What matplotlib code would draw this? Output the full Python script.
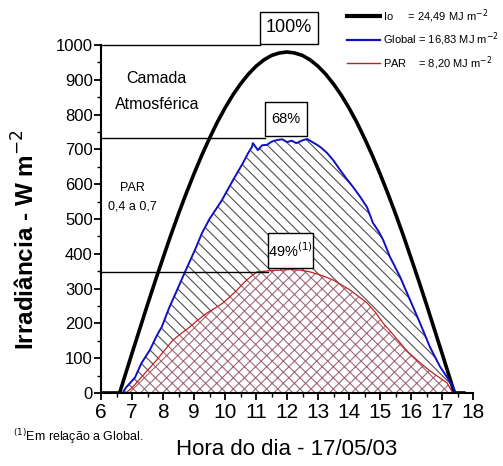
import numpy as np
import matplotlib
matplotlib.use("Agg")
import matplotlib.pyplot as plt
from matplotlib.patches import Rectangle
from matplotlib.lines import Line2D
from matplotlib.ticker import MultipleLocator

plt.rcParams['font.family'] = ['Liberation Sans', 'DejaVu Sans']
plt.rcParams['hatch.linewidth'] = 0.8

# Io (top of atmosphere), hours and W m-2
io_hour = [6.0, 6.6, 6.75, 7.0, 7.25, 7.5, 7.75, 8.0, 8.25, 8.5, 8.75, 9.0, 9.25, 9.5, 9.75,
           10.0, 10.25, 10.5, 10.75, 11.0, 11.25, 11.5, 11.75, 12.0, 12.25, 12.5, 12.75,
           13.0, 13.25, 13.5, 13.75, 14.0, 14.25, 14.5, 14.75, 15.0, 15.25, 15.5, 15.75,
           16.0, 16.25, 16.5, 16.75, 17.0, 17.25, 17.4, 17.7]
io_val = [0, 0, 43, 114, 184, 254, 322, 388, 453, 515, 574, 630, 683, 732, 778,
          819, 856, 888, 916, 939, 957, 970, 977, 980, 977, 970, 957,
          939, 916, 888, 856, 819, 778, 732, 683, 630, 574, 515, 453,
          388, 322, 254, 184, 114, 43, 0, 0]

# Global
glob_hour = [6.7, 6.8, 6.94, 7.1, 7.3, 7.58, 7.8, 7.96, 8.2, 8.4, 8.71, 9.03, 9.26, 9.5,
             9.9, 10.26, 10.58, 10.75, 10.87, 10.9, 11.06, 11.2, 11.35, 11.5, 11.68, 11.85,
             12.0, 12.15, 12.3, 12.5, 12.65, 12.8, 12.97, 13.1, 13.29, 13.5, 13.71, 13.9,
             14.13, 14.35, 14.58, 14.77, 14.95, 15.1, 15.32, 15.42, 15.65, 15.97, 16.29,
             16.61, 16.94, 17.26, 17.45]
glob_val = [0, 15, 29, 45, 85, 124, 165, 190, 245, 285, 348, 411, 460, 500,
            554, 612, 661, 690, 707, 718, 698, 712, 713, 722, 727, 729,
            721, 725, 718, 726, 730, 722, 713, 705, 690, 668, 641, 618,
            592, 565, 534, 489, 465, 440, 391, 374, 333, 267, 201,
            132, 75, 32, 0]

# PAR
par_hour = [6.8, 7.0, 7.4, 7.8, 8.1, 8.32, 8.6, 8.87, 9.1, 9.42, 9.7, 9.94, 10.2, 10.39,
            10.6, 10.81, 11.03, 11.3, 11.5, 11.77, 12.1, 12.42, 12.7, 12.97, 13.2, 13.48,
            13.75, 14.03, 14.3, 14.58, 14.85, 15.1, 15.4, 15.65, 15.9, 16.19, 16.45,
            16.71, 16.95, 17.16, 17.35]
par_val = [0, 15, 55, 95, 128, 152, 172, 190, 208, 230, 245, 259, 280, 296,
           316, 333, 348, 350, 352, 353, 355, 353, 349, 342, 335, 325,
           311, 296, 278, 259, 232, 201, 170, 144, 118, 95, 75,
           57, 42, 29, 0]

legend_labels = ["Io     = 24,49 MJ m$^{-2}$", "Global = 16,83 MJ m$^{-2}$",
                 "PAR    = 8,20 MJ m$^{-2}$"]
ref_levels = [1000, 733, 348]
ref_texts = ["100%", "68%", "49%$^{(1)}$"]

fig = plt.figure(figsize=(5.03, 4.66), dpi=100)
ax = fig.add_axes([0.2008, 0.1567, 0.7396, 0.7467])

# hatched areas
ax.fill(glob_hour, glob_val, facecolor='none', edgecolor='#505050', lw=0, hatch='\\\\\\')
ax.fill(par_hour, par_val, facecolor='white', edgecolor='#a06a78', lw=0, hatch='xxx')

ax.plot(io_hour, io_val, color='black', lw=2.6)
ax.plot(glob_hour, glob_val, color='#1010c0', lw=1.4)
ax.plot(par_hour, par_val, color='#c02020', lw=0.9)

# reference lines and percent boxes
box_x = [(11.13, 13.0), (11.29, 12.65), (11.39, 12.84)]
box_y = [(1003, 1095), (738, 836), (360, 460)]
for lev, txt, bx, by, fs in zip(ref_levels, ref_texts, box_x, box_y, [13, 10.5, 10.5]):
    ax.plot([6, bx[0]], [lev, lev], color='black', lw=1.0, clip_on=False)
    ax.add_patch(Rectangle((bx[0], by[0]), bx[1] - bx[0], by[1] - by[0], fc='white',
                           ec='black', lw=1.0, clip_on=False, zorder=5))
    ax.text((bx[0] + bx[1]) / 2, (by[0] + by[1]) / 2, txt, ha='center', va='center',
            fontsize=fs, zorder=6, clip_on=False)

ax.text(7.8, 905, "Camada", fontsize=11.5, ha='center', va='center')
ax.text(7.8, 830, "Atmosférica", fontsize=11.5, ha='center', va='center')
ax.text(7.0, 590, "PAR", fontsize=9, ha='center', va='center')
ax.text(7.0, 535, "0,4 a 0,7", fontsize=9, ha='center', va='center')

ax.set_xlim(6, 18)
ax.set_ylim(0, 1000)
ax.xaxis.set_major_locator(MultipleLocator(1))
ax.xaxis.set_minor_locator(MultipleLocator(0.5))
ax.yaxis.set_major_locator(MultipleLocator(100))
ax.yaxis.set_minor_locator(MultipleLocator(50))
for s in ['top', 'right']:
    ax.spines[s].set_visible(False)
for s in ['left', 'bottom']:
    ax.spines[s].set_linewidth(1.5)
ax.tick_params(which='major', direction='out', length=5, width=1.3)
ax.tick_params(which='minor', direction='out', length=3, width=1.0)
ax.tick_params(axis='x', labelsize=15, pad=2)
ax.tick_params(axis='y', labelsize=12, pad=1)

ax.set_xlabel("Hora do dia - 17/05/03", fontsize=16)
ax.xaxis.set_label_coords(0.5, -0.132)
ax.set_ylabel("Irradiância - W m$^{-2}$", fontsize=17.5, fontweight='bold')
ax.yaxis.set_label_coords(-0.165, 0.44)

fig.text(0.026, 0.063, "$^{(1)}$Em relação a Global.", fontsize=9, ha='left', va='center')

handles = [Line2D([0], [0], color='black', lw=3.0),
           Line2D([0], [0], color='#1010c0', lw=1.6),
           Line2D([0], [0], color='#c02020', lw=1.0)]
fig.legend(handles, legend_labels, loc='upper left', bbox_to_anchor=(0.69, 0.985),
           frameon=False, fontsize=8, handlelength=3.0, handletextpad=0.2,
           labelspacing=0.55, borderpad=0, borderaxespad=0)

fig.savefig("out.png", dpi=100)
